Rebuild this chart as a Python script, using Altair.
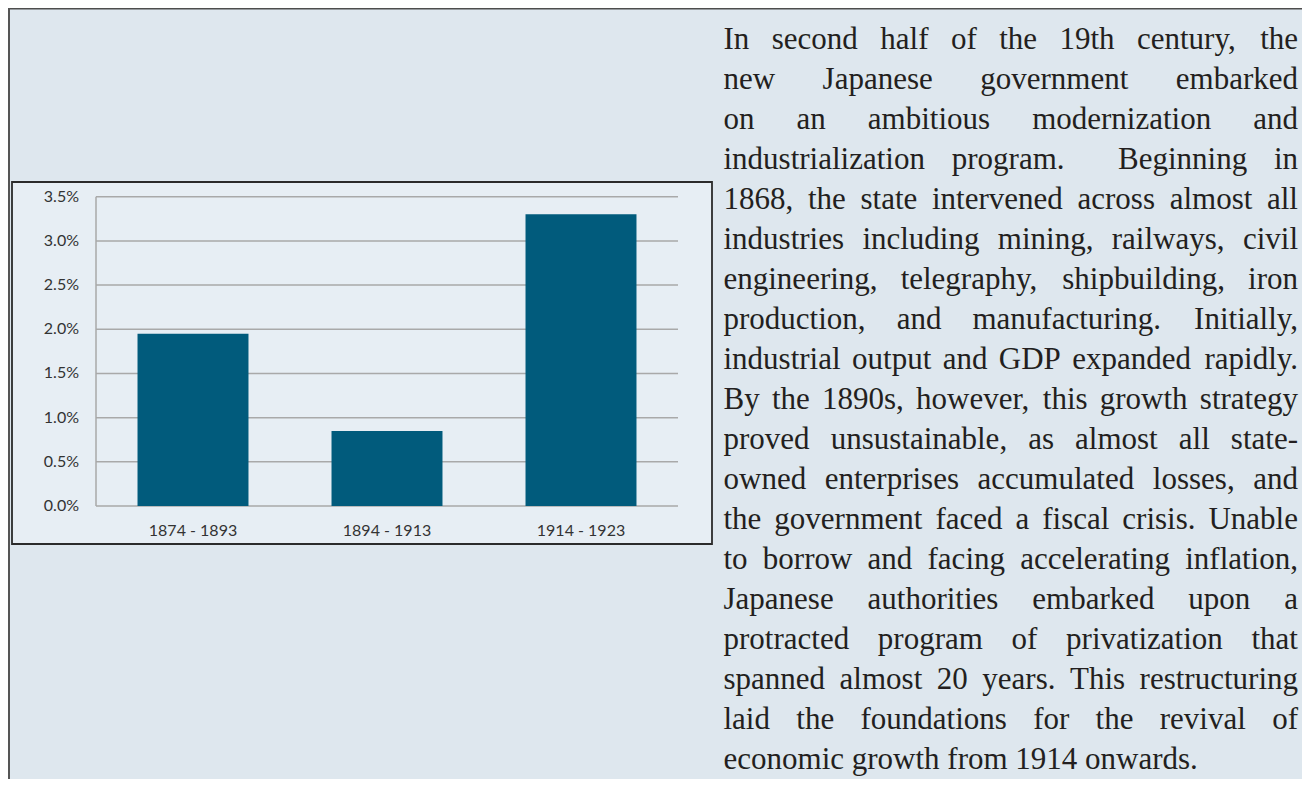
import altair as alt
import pandas as pd

# ---------------- data ----------------
categories = ["1874 - 1893", "1894 - 1913", "1914 - 1923"]
growth = [0.0195, 0.0085, 0.033]
y_ticks = [0.0, 0.005, 0.01, 0.015, 0.02, 0.025, 0.03, 0.035]
paragraph_lines = [
    "In second half of the 19th century, the",
    "new Japanese government embarked",
    "on an ambitious modernization and",
    "industrialization program.  Beginning in",
    "1868, the state intervened across almost all",
    "industries including mining, railways, civil",
    "engineering, telegraphy, shipbuilding, iron",
    "production, and manufacturing. Initially,",
    "industrial output and GDP expanded rapidly.",
    "By the 1890s, however, this growth strategy",
    "proved unsustainable, as almost all state-",
    "owned enterprises accumulated losses, and",
    "the government faced a fiscal crisis. Unable",
    "to borrow and facing accelerating inflation,",
    "Japanese authorities embarked upon a",
    "protracted program of privatization that",
    "spanned almost 20 years. This restructuring",
    "laid the foundations for the revival of",
    "economic growth from 1914 onwards.",
]

# ---------------- styles / layout ----------------
W, H = 1294, 771
PANEL = "#dee7ee"
BOX = "#e7eef4"
BAR = "#015b7c"
GRID = "#a9a9a9"
LBL = "#333333"
TXT = "#231f20"
SERIF = "'Times New Roman', 'Liberation Serif', Tinos, Times, serif"

# Times New Roman advance widths (per 1000 em) for justification
TNR = {" ": 250, ",": 250, "-": 333, ".": 250}
TNR.update({d: 500 for d in "0123456789"})
TNR.update(dict(zip("ABCDEFGHIJKLMNOPQRSTUVWXYZ",
                    [722, 667, 667, 722, 611, 556, 722, 722, 333, 389, 722, 611, 889,
                     722, 722, 556, 722, 667, 556, 611, 722, 722, 944, 722, 722, 611])))
TNR.update(dict(zip("abcdefghijklmnopqrstuvwxyz",
                    [444, 500, 444, 500, 444, 333, 500, 500, 278, 278, 500, 278, 778,
                     500, 500, 500, 500, 333, 389, 278, 500, 500, 722, 500, 500, 444])))


def tw(s, size):
    return sum(TNR.get(c, 500) for c in s) * size / 1000.0


FS = 31
TX0, TX1 = 715.5, 1290.0
BASE0, LH = 41, 40
left_rows, right_rows = [], []
for i, line in enumerate(paragraph_lines):
    y = BASE0 + LH * i
    if i == len(paragraph_lines) - 1:
        left_rows.append(dict(word=line, px=TX0, py=y))
        continue
    words = line.split(" ")
    nsp = len(words) - 1
    natural = sum(tw(w, FS) for w in words)
    gap = (TX1 - TX0 - natural) / nsp
    x = TX0
    for j, w in enumerate(words):
        if w:
            if j == len(words) - 1:
                right_rows.append(dict(word=w, px=TX1, py=y))
            else:
                left_rows.append(dict(word=w, px=x, py=y))
        x += tw(w, FS) + gap

one = pd.DataFrame({"k": [0]})
bars_df = pd.DataFrame({"cat": categories, "g": growth})
ticks_df = pd.DataFrame({"v": y_ticks})

ys = alt.Scale(domain=[0, 0.035], range=[498, 188.7], nice=False, zero=True)
xs = alt.Scale(domain=categories, range=[88, 670], paddingInner=0.428, paddingOuter=0.214)

panel_top = alt.Chart(one).mark_rule(color="#4d4d4d", strokeWidth=1.5).encode(
    x=alt.value(0), x2=alt.value(W), y=alt.value(0.75))
panel_left = alt.Chart(one).mark_rule(color="#555555", strokeWidth=2).encode(
    x=alt.value(1), y=alt.value(0), y2=alt.value(H))
box = alt.Chart(one).mark_rect(fill=BOX, stroke="#2b2b2b", strokeWidth=1.8).encode(
    x=alt.value(4), x2=alt.value(704), y=alt.value(174), y2=alt.value(536))

grid = alt.Chart(ticks_df).mark_rule(color=GRID, strokeWidth=1.5).encode(
    y=alt.Y("v:Q", scale=ys, axis=None), x=alt.value(88), x2=alt.value(670))
axis_v = alt.Chart(one).mark_rule(color=GRID, strokeWidth=1.5).encode(
    x=alt.value(88), y=alt.value(188.7), y2=alt.value(498))

bars = alt.Chart(bars_df).mark_bar(color=BAR).encode(
    x=alt.X("cat:N", scale=xs, axis=None, sort=categories),
    y=alt.Y("g:Q", scale=ys, axis=None))

ylabels = alt.Chart(ticks_df).mark_text(
    align="right", baseline="middle", font="Lato", fontSize=16, color=LBL).encode(
    y=alt.Y("v:Q", scale=ys, axis=None), x=alt.value(71),
    text=alt.Text("v:Q", format=".1%"))

xlabels = alt.Chart(bars_df).mark_text(
    align="center", baseline="alphabetic", font="Lato", fontSize=16, color=LBL).encode(
    x=alt.X("cat:N", scale=xs, axis=None, sort=categories), y=alt.value(528),
    text="cat:N")

words_left = alt.Chart(pd.DataFrame(left_rows)).mark_text(
    align="left", baseline="alphabetic", font=SERIF, fontSize=FS, color=TXT).encode(
    x=alt.X("px:Q", scale=None, axis=None), y=alt.Y("py:Q", scale=None, axis=None), text="word:N")
words_right = alt.Chart(pd.DataFrame(right_rows)).mark_text(
    align="right", baseline="alphabetic", font=SERIF, fontSize=FS, color=TXT).encode(
    x=alt.X("px:Q", scale=None, axis=None), y=alt.Y("py:Q", scale=None, axis=None), text="word:N")

chart = alt.layer(
    panel_top, panel_left, box, grid, axis_v, bars, ylabels, xlabels, words_left, words_right
).resolve_scale(x="independent", y="independent").properties(
    width=W, height=H, padding=0, autosize=alt.AutoSizeParams(type="none"), background=PANEL
).configure_view(stroke=None)

chart.save("out.html", embed_options={"renderer": "svg", "actions": False})
